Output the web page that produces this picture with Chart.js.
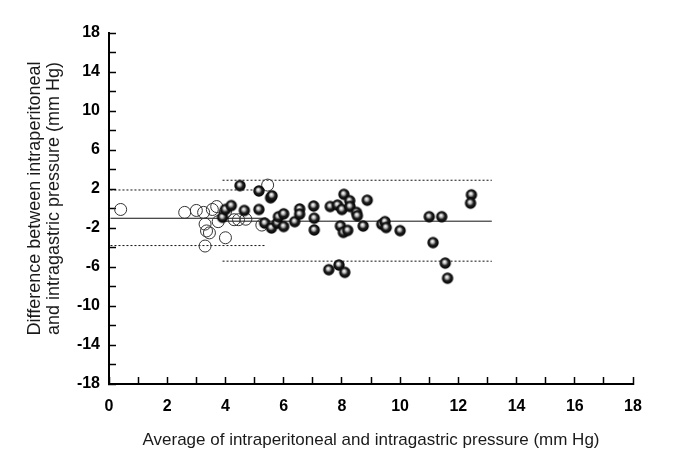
<!DOCTYPE html>
<html>
<head>
<meta charset="utf-8">
<script src="https://cdn.jsdelivr.net/npm/chart.js@4.4.1/dist/chart.umd.min.js"></script>
<style>
  html, body { margin: 0; padding: 0; background: #fff; }
  #wrap { width: 685px; height: 466px; }
</style>
</head>
<body>
<div id="wrap"><canvas id="myChart" width="685" height="466"></canvas></div>
<script>
// open circles (first group)
let openAvg  = [0.4, 2.6, 3.0, 3.25, 3.55, 3.7, 3.3, 3.35, 3.45, 4.0, 3.3, 3.75, 4.0, 4.3, 4.45, 4.7, 5.25, 5.45];
let openDiff = [-0.1, -0.4, -0.2, -0.4, -0.1, 0.2, -1.6, -2.3, -2.5, -3.0, -3.85, -1.35, -0.35, -1.15, -1.15, -1.1, -1.7, 2.4];

// filled circles (second group)
let closedAvg  = [3.9, 4.0, 4.2, 4.5, 4.65, 5.15, 5.15, 5.55, 5.6, 5.35, 5.58, 5.78, 5.82, 6.0, 6.0, 6.38,
                  6.55, 6.55, 7.03, 7.05, 7.05, 7.6, 7.85, 8.0, 8.07, 8.27, 8.28, 8.5, 8.53, 8.87, 7.95, 8.05,
                  8.2, 8.73, 9.37, 9.48, 9.52, 10.0, 11.0, 11.43, 11.13, 11.55, 11.63, 12.45, 12.42, 7.55, 7.9, 8.1];
let closedDiff = [-0.9, -0.1, 0.3, 2.35, -0.2, -0.1, 1.8, 1.1, 1.3, -1.5, -2.0, -1.5, -0.85, -0.55, -1.85, -1.35,
                  -0.05, -0.58, 0.25, -1.0, -2.2, 0.2, 0.35, -0.1, 1.45, 0.8, 0.2, -0.4, -0.75, 0.85, -1.8, -2.45,
                  -2.25, -1.8, -1.62, -1.35, -1.95, -2.27, -0.84, -0.84, -3.5, -5.6, -7.15, 1.4, 0.55, -6.28, -5.8, -6.55];

// bias and limits of agreement: [mean, upper, lower], drawn over [from, to]
let openLines   = [-1.0, 1.9, -3.8];
let openSpan    = [0.05, 5.4];
let closedLines = [-1.3, 2.9, -5.4];
let closedSpan  = [3.9, 13.15];

let xTitle = "Average of intraperitoneal and intragastric pressure (mm Hg)";
// leading spaces nudge the rotated title up a little, as in the original
let yTitle = ["    Difference between intraperitoneal", "    and intragastric pressure (mm Hg)"];

function toPoints(xs, ys) {
    return xs.map((x, i) => ({ x: x, y: ys[i] }));
}

function hLine(span, y, dashed) {
    return {
        type: 'line',
        data: [{ x: span[0], y: y }, { x: span[1], y: y }],
        borderColor: '#111',
        borderWidth: 1,
        borderDash: dashed ? [2, 2] : [],
        pointRadius: 0,
        order: 3
    };
}

// shaded ball used for the filled markers
function makeBall(r) {
    let c = document.createElement('canvas');
    let s = Math.ceil(r * 2 + 2);
    c.width = s;
    c.height = s;
    let g = c.getContext('2d');
    let m = s / 2;
    let grad = g.createRadialGradient(m - r * 0.15, m - r * 0.25, 0.3, m, m, r);
    grad.addColorStop(0, '#ffffff');
    grad.addColorStop(0.28, '#b0b0b0');
    grad.addColorStop(0.55, '#202020');
    grad.addColorStop(1, '#000000');
    g.beginPath();
    g.arc(m, m, r, 0, Math.PI * 2);
    g.fillStyle = grad;
    g.fill();
    return c;
}

let font = "Arial, 'Liberation Sans', sans-serif";

let myChart = new Chart(document.getElementById('myChart'), {
    type: 'scatter',
    data: {
        datasets: [
            {
                label: 'closed',
                data: toPoints(closedAvg, closedDiff),
                pointStyle: makeBall(5.7),
                pointRadius: 6,
                order: 1
            },
            {
                label: 'open',
                data: toPoints(openAvg, openDiff),
                pointStyle: 'circle',
                pointRadius: 6,
                backgroundColor: 'rgba(255,255,255,0)',
                borderColor: '#333',
                borderWidth: 1,
                order: 2
            },
            hLine(openSpan, openLines[0], false),
            hLine(openSpan, openLines[1], true),
            hLine(openSpan, openLines[2], true),
            hLine(closedSpan, closedLines[0], false),
            hLine(closedSpan, closedLines[1], true),
            hLine(closedSpan, closedLines[2], true)
        ]
    },
    options: {
        responsive: false,
        animation: false,
        layout: { padding: { left: 0, top: 33, right: 52, bottom: 0 } },
        plugins: {
            legend: { display: false },
            tooltip: { enabled: false }
        },
        scales: {
            x: {
                type: 'linear',
                min: 0,
                max: 18,
                afterFit: function(scale) { scale.height = 82; },
                border: { display: true, color: '#000', width: 2 },
                grid: { drawOnChartArea: false, drawTicks: true, tickLength: -7, color: '#000', tickWidth: 1.5 },
                ticks: {
                    stepSize: 1,
                    autoSkip: false,
                    maxRotation: 0,
                    padding: 20,
                    color: '#000',
                    font: { family: font, size: 16, weight: 'bold' },
                    callback: function(v) { return v % 2 === 0 ? String(v) : ''; }
                },
                title: {
                    display: true,
                    text: xTitle,
                    color: '#1a1a1a',
                    font: { family: font, size: 17 },
                    padding: { top: 0, bottom: 15 }
                }
            },
            y: {
                type: 'linear',
                min: -18,
                max: 18,
                afterFit: function(scale) { scale.width = 109; },
                border: { display: true, color: '#000', width: 2 },
                grid: { drawOnChartArea: false, drawTicks: true, tickLength: -7, color: '#000', tickWidth: 1.5 },
                ticks: {
                    stepSize: 2,
                    autoSkip: false,
                    padding: 16,
                    color: '#000',
                    font: { family: font, size: 16, weight: 'bold' },
                    callback: function(v) { return (v + 18) % 4 === 0 ? String(v) : ''; }
                },
                title: {
                    display: true,
                    text: yTitle,
                    color: '#1a1a1a',
                    font: { family: font, size: 18, lineHeight: 1.05 },
                    padding: { top: 26, bottom: 0 }
                }
            }
        }
    }
});
</script>
</body>
</html>
